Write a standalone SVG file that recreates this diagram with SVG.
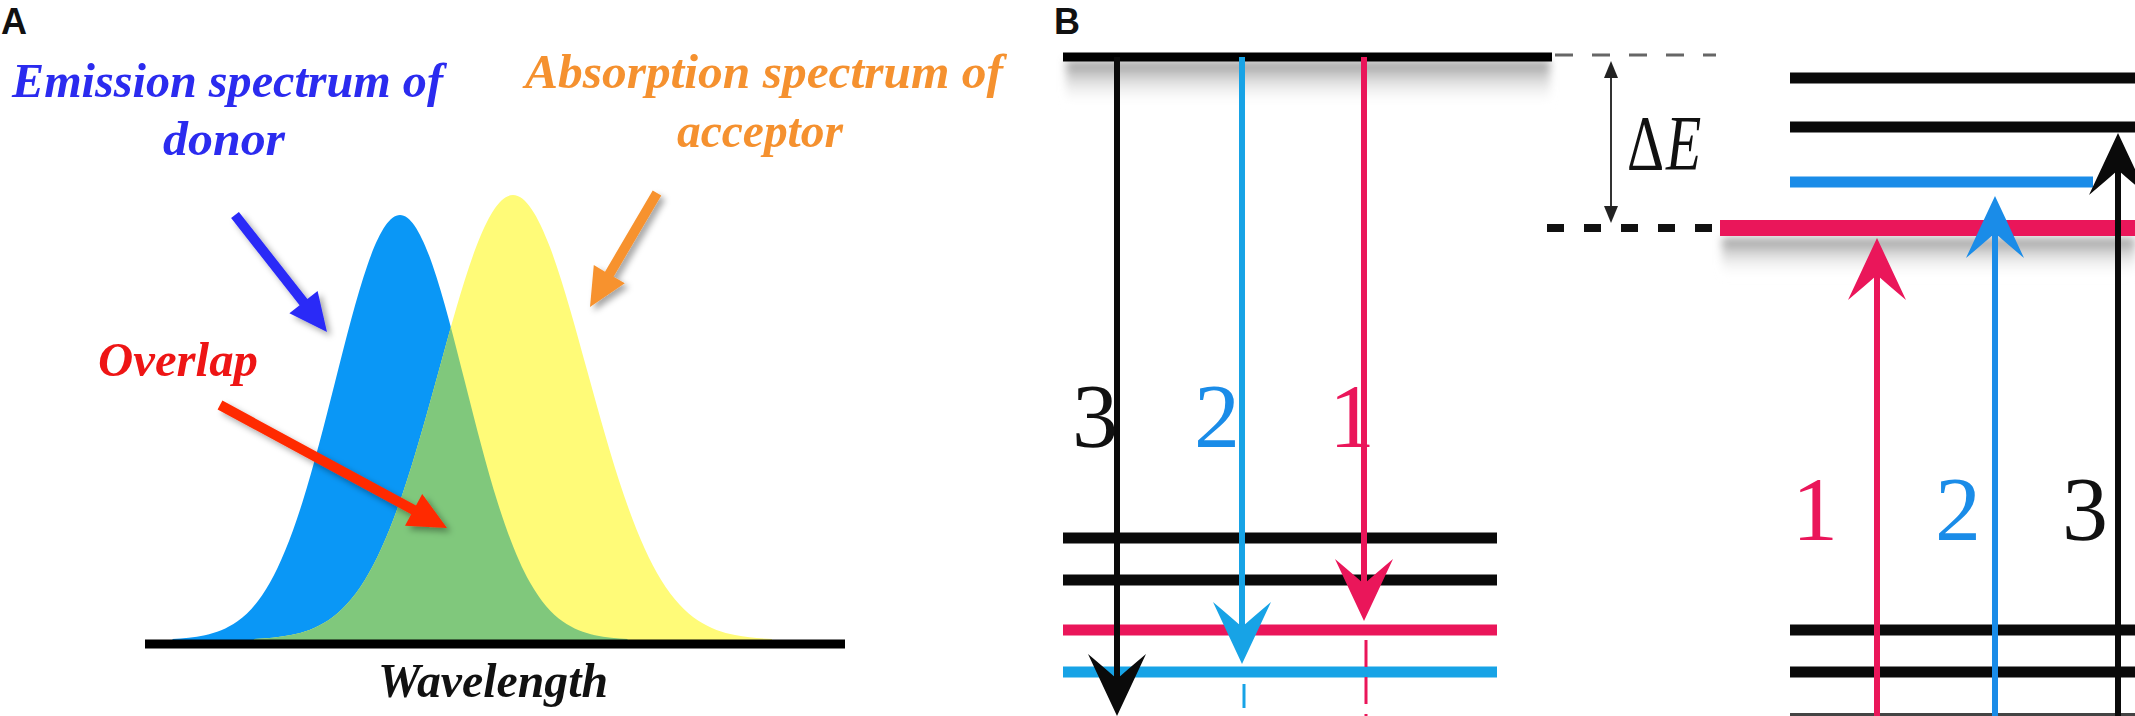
<svg xmlns="http://www.w3.org/2000/svg" width="2135" height="716" viewBox="0 0 2135 716">
<defs>
<style>
.lbl{font-family:"Liberation Sans",Arial,sans-serif;font-weight:bold;font-size:36px;fill:#111}
.sp{font-family:"Liberation Serif","Times New Roman",serif;font-weight:bold;font-style:italic;font-size:49px}
.num{font-family:"Liberation Serif","Times New Roman",serif;font-size:92px}
.de{font-family:"Liberation Serif","Times New Roman",serif;font-size:78px;fill:#111}
.lvl{stroke-width:11;fill:none}
.vt{stroke-width:6;fill:none}
.dsh{stroke-width:3;fill:none}
</style>
<path id="gauss" d="M -350 0 L -350 0.22 C -333.3 0.35 -316.7 0.56 -300 1.11 C -283.3 1.67 -266.7 2.56 -250 4.39 C -233.3 6.22 -216.7 9.02 -200 13.53 C -183.3 18.04 -166.7 24.35 -150 32.47 C -133.3 40.59 -116.7 50.54 -100 60.65 C -83.3 70.76 -66.7 80.9 -50 88.25 C -33.3 95.6 -16.7 100 0 100 C 16.7 100 33.3 95.6 50 88.25 C 66.7 80.9 83.3 70.76 100 60.65 C 116.7 50.54 133.3 40.59 150 32.47 C 166.7 24.35 183.3 18.04 200 13.53 C 216.7 9.02 233.3 6.22 250 4.39 C 266.7 2.56 283.3 1.67 300 1.11 C 316.7 0.56 333.3 0.35 350 0.22 L 350 0 Z"/>
<clipPath id="clipY"><use href="#gauss" transform="translate(513 640) scale(0.74 -4.45)"/></clipPath>
<filter id="ds" x="-30%" y="-30%" width="170%" height="170%"><feDropShadow dx="4" dy="4" stdDeviation="3" flood-color="#000" flood-opacity="0.35"/></filter>
<filter id="blur" x="-10%" y="-50%" width="120%" height="200%"><feGaussianBlur stdDeviation="4"/></filter>
<linearGradient id="shadeV" x1="0" y1="0" x2="0" y2="1"><stop offset="0" stop-color="#888" stop-opacity="0.9"/><stop offset="1" stop-color="#fff" stop-opacity="0"/></linearGradient>
<path id="barb" d="M0,0 L-29,-62 Q-10,-46 0,-37 Q10,-46 29,-62 Z"/>
</defs>
<rect width="2135" height="716" fill="#fff"/>

<!-- Panel A -->
<g id="label-A"><text class="lbl" x="1" y="34">A</text></g>
<g id="spectra">
  <use href="#gauss" transform="translate(400 640) scale(0.65 -4.25)" fill="#0A97F6"/>
  <use href="#gauss" transform="translate(513 640) scale(0.74 -4.45)" fill="#FFFB78"/>
  <g clip-path="url(#clipY)"><use href="#gauss" transform="translate(400 640) scale(0.65 -4.25)" fill="#80C87C"/></g>
  <line x1="145" y1="644" x2="845" y2="644" stroke="#000" stroke-width="9"/>
</g>
<g id="text-emission">
  <text class="sp" x="12" y="97" fill="#2B2BEF" textLength="431" lengthAdjust="spacingAndGlyphs">Emission spectrum of</text>
  <text class="sp" x="163" y="155" fill="#2B2BEF" textLength="122" lengthAdjust="spacingAndGlyphs">donor</text>
</g>
<g id="text-absorption">
  <text class="sp" x="525" y="88" fill="#F5912F" textLength="478" lengthAdjust="spacingAndGlyphs">Absorption spectrum of</text>
  <text class="sp" x="677" y="147" fill="#F5912F" textLength="166" lengthAdjust="spacingAndGlyphs">acceptor</text>
</g>
<g id="text-overlap"><text class="sp" x="98" y="376" fill="#EE1515" textLength="160" lengthAdjust="spacingAndGlyphs">Overlap</text></g>
<g id="text-wavelength"><text class="sp" x="378" y="697" fill="#111" font-size="45" textLength="230" lengthAdjust="spacingAndGlyphs">Wavelength</text></g>
<g id="connectors-A" filter="url(#ds)">
  <polygon fill="#2B2BF7" points="231.1,218.1 299.6,305.2 289.4,313.2 327,332 317.6,291 307.4,299 238.9,211.9"/>
  <polygon fill="#F7922E" points="652.7,190.5 605,271.7 593.8,265.1 590,307 624.8,283.3 613.6,276.7 661.3,195.5"/>
  <polygon fill="#FF2A05" points="217.6,409.4 411.2,514.3 405,525.7 447,528 422.2,494.1 416,505.5 222.4,400.6"/>
</g>

<!-- Panel B -->
<g id="label-B"><text class="lbl" x="1054" y="34">B</text></g>
<g id="donor-levels">
  <rect x="1066" y="61" width="484" height="46" fill="url(#shadeV)" filter="url(#blur)"/>
  <line x1="1063" y1="57" x2="1552" y2="57" stroke="#000" stroke-width="9"/>
  <line x1="1555" y1="55" x2="1716" y2="55" stroke="#666" stroke-width="3" stroke-dasharray="18 19"/>
  <line class="lvl" x1="1063" y1="538" x2="1497" y2="538" stroke="#0a0a0a"/>
  <line class="lvl" x1="1063" y1="580" x2="1497" y2="580" stroke="#0a0a0a"/>
  <line class="lvl" x1="1063" y1="630" x2="1497" y2="630" stroke="#EA165A"/>
  <line class="lvl" x1="1063" y1="672" x2="1497" y2="672" stroke="#17A3E6"/>
</g>
<g id="acceptor-levels">
  <rect x="1722" y="238" width="413" height="40" fill="url(#shadeV)" filter="url(#blur)"/>
  <line class="lvl" x1="1790" y1="78" x2="2135" y2="78" stroke="#0a0a0a"/>
  <line class="lvl" x1="1790" y1="127" x2="2135" y2="127" stroke="#0a0a0a"/>
  <line class="lvl" x1="1790" y1="182" x2="2093" y2="182" stroke="#1A8CE8"/>
  <line x1="1547" y1="228" x2="1716" y2="228" stroke="#111" stroke-width="8" stroke-dasharray="17 20"/>
  <line x1="1720" y1="228" x2="2135" y2="228" stroke="#EA165A" stroke-width="16"/>
  <line class="lvl" x1="1790" y1="630" x2="2135" y2="630" stroke="#0a0a0a"/>
  <line class="lvl" x1="1790" y1="672" x2="2135" y2="672" stroke="#0a0a0a"/>
  <rect x="1790" y="713" width="345" height="3" fill="#444"/>
</g>
<g id="delta-E">
  <line x1="1611" y1="72" x2="1611" y2="212" stroke="#333" stroke-width="2"/>
  <polygon points="1611,61 1604,78 1618,78" fill="#222"/>
  <polygon points="1611,223 1604,206 1618,206" fill="#222"/>
  <text class="de" transform="translate(1627 169) scale(0.74 1)">Δ</text>
  <text class="de" transform="translate(1666 169) scale(0.74 1)" font-style="italic">E</text>
</g>
<g id="connectors-B">
  <line class="vt" x1="1117" y1="57" x2="1117" y2="690" stroke="#0a0a0a"/>
  <use href="#barb" transform="translate(1117 716)" fill="#0a0a0a"/>
  <line class="vt" x1="1242" y1="57" x2="1242" y2="640" stroke="#17A3E6"/>
  <use href="#barb" transform="translate(1242 664)" fill="#17A3E6"/>
  <line class="dsh" x1="1244" y1="684" x2="1244" y2="716" stroke="#17A3E6" stroke-dasharray="24 10"/>
  <line class="vt" x1="1364" y1="57" x2="1364" y2="600" stroke="#EA165A"/>
  <use href="#barb" transform="translate(1364 621)" fill="#EA165A"/>
  <line class="dsh" x1="1366" y1="640" x2="1366" y2="716" stroke="#EA165A" stroke-dasharray="27 10"/>
  <line class="vt" x1="1877" y1="716" x2="1877" y2="260" stroke="#EA165A"/>
  <use href="#barb" transform="translate(1877 238) scale(1 -1)" fill="#EA165A"/>
  <line class="vt" x1="1995" y1="716" x2="1995" y2="218" stroke="#1A8CE8"/>
  <use href="#barb" transform="translate(1995 196) scale(1 -1)" fill="#1A8CE8"/>
  <line class="vt" x1="2118" y1="716" x2="2118" y2="155" stroke="#0a0a0a"/>
  <use href="#barb" transform="translate(2118 133) scale(1 -1)" fill="#0a0a0a"/>
</g>
<g id="transition-labels">
  <text class="num" x="1095" y="447" text-anchor="middle" fill="#111">3</text>
  <text class="num" x="1217" y="447" text-anchor="middle" fill="#1A8CE8">2</text>
  <text class="num" x="1352" y="447" text-anchor="middle" fill="#EA165A">1</text>
  <text class="num" x="1815" y="540" text-anchor="middle" fill="#EA165A">1</text>
  <text class="num" x="1958" y="540" text-anchor="middle" fill="#1A8CE8">2</text>
  <text class="num" x="2085" y="540" text-anchor="middle" fill="#111">3</text>
</g>
</svg>
